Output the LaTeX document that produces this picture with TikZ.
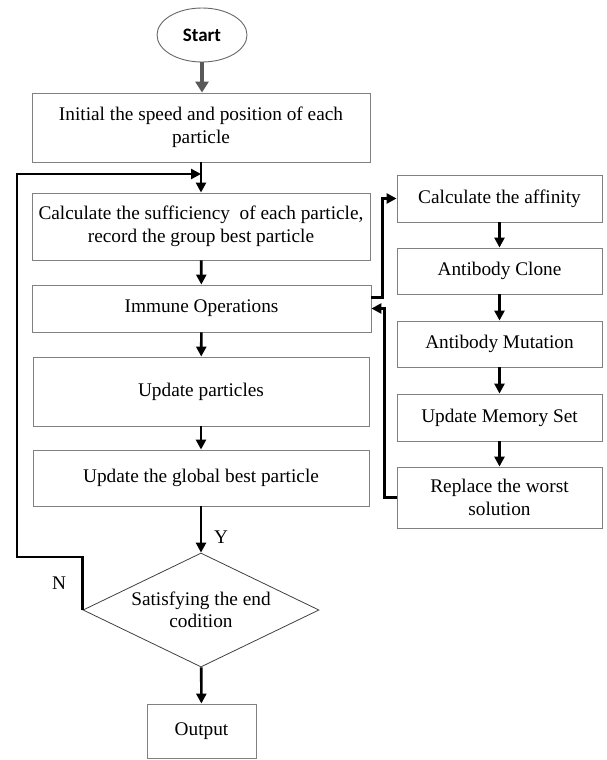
\documentclass[tikz,border=0pt]{standalone}
\usepackage{fontspec}
\setmainfont{Liberation Serif}
\newfontfamily\startfont{Carlito}
\usepackage{tikz}
\usetikzlibrary{positioning, calc, shapes.geometric, arrows.meta}

\begin{document}
\begin{tikzpicture}[
        x=1pt, y=-1pt,
        font=\fontsize{19.3}{22.5}\selectfont,
        block/.style={
          align=center, rectangle, draw=black!50, line width=0.9pt, inner sep=0pt
        },
        terminal/.style={
          align=center, ellipse, draw=black!60, line width=0.9pt, inner sep=0pt,
          minimum width=90pt, minimum height=54pt, font=\startfont\bfseries\fontsize{19}{22}\selectfont
        },
        decision/.style={
          align=center, diamond, draw=black!75, line width=0.8pt, inner sep=0pt, aspect=2.07
        },
        flow/.style={
          ->, line width=2.6pt
        },
        ghost/.style={
          align=center, inner sep=0pt
        },
        >={Triangle[length=10pt,width=10pt]},
      ]
        \useasboundingbox (0,0) rectangle (606,760);

        % Main column
        \node [terminal] (start) at (202,35) {Start};
        \node [block, minimum width=338pt, minimum height=69pt] (init) at (201,127.5) {Initial the speed and position of each\\particle};
        \node [block, minimum width=338pt, minimum height=67pt] (fitness) at (201,226.5) {Calculate the sufficiency\ \ of each particle,\\record the group best particle};
        \node [block, minimum width=339pt, minimum height=47pt] (immune) at (201.5,308.5) {Immune Operations};
        \node [block, minimum width=336pt, minimum height=69pt] (update) at (201,391.5) {Update particles};
        \node [block, minimum width=336pt, minimum height=56pt] (gbest) at (201,478) {Update the global best particle};
        \node [decision, minimum width=236pt, minimum height=114pt] (check) at (201,610) {Satisfying the end\\codition};
        \node [block, minimum width=109pt, minimum height=54pt] (output) at (201.5,731) {Output};

        % Immune operations
        \node [block, minimum width=205pt, minimum height=47pt] (affinity) at (499.5,198.5) {Calculate the affinity};
        \node [block, minimum width=205pt, minimum height=46pt] (clone) at (499.5,271) {Antibody Clone};
        \node [block, minimum width=205pt, minimum height=46pt] (mutation) at (499.5,344) {Antibody Mutation};
        \node [block, minimum width=205pt, minimum height=47pt] (memory) at (499.5,417.5) {Update Memory Set};
        \node [block, minimum width=205pt, minimum height=61pt] (replace) at (499.5,497.5) {Replace the worst\\solution};

        % Loop points
        \coordinate (loopjoin) at (201,174);
        \coordinate (loopcorner) at (17,557);

        % Flow
        \draw [->, draw=black!65, line width=4pt, >={Triangle[length=11pt,width=13pt]}] (start.south) -- (start.south |- init.north);
        \draw [flow] (init) -- (fitness);
        \draw [flow] (fitness) -- (immune);
        \draw [flow] (immune) -- (update);
        \draw [flow] (update) -- (gbest);
        \draw [flow] (gbest) -- (check);
        \draw [flow] (check) -- (output);
        \draw [flow] (check.west) |- (loopcorner) |- (loopjoin);

        \draw [flow] ([yshift=11pt]immune.east) -- ++(11,0) |- (affinity.west);
        \draw [flow] (affinity) -- (clone);
        \draw [flow] (clone) -- (mutation);
        \draw [flow] (mutation) -- (memory);
        \draw [flow] (memory) -- (replace);
        \draw [flow] (replace.west) -- ++(-12,0) |- (immune.east);

        % Branch labels
        \node [ghost] (yes) at (221,537) {Y};
        \node [ghost] (no) at (59,583) {N};

      \end{tikzpicture}
\end{document}
